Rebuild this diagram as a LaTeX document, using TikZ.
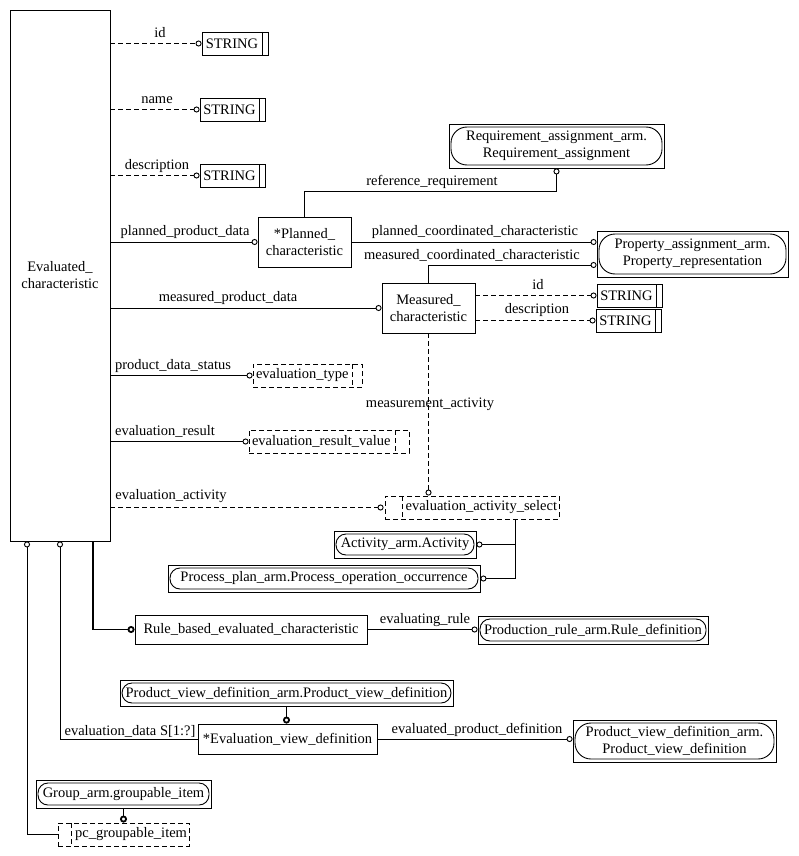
\documentclass[tikz,border=0pt]{standalone}
\usepackage{fontspec}
\setmainfont{Liberation Serif}
\usetikzlibrary{arrows.meta}
\tikzset{
  oc/.tip={Circle[open,length=6pt,width=6pt]},
  toc/.tip={Circle[open,length=7pt,width=7pt]},
  dsh/.style={dash pattern=on 5pt off 3pt},
  ent/.style={draw, inner sep=0pt, align=center},
  strbox/.style={ent, minimum width=65pt, minimum height=23pt,
    path picture={\draw ([xshift=-6pt]path picture bounding box.north east) -- ([xshift=-6pt]path picture bounding box.south east);}},
  extbox/.style={ent, path picture={\draw[rounded corners=#1] ([shift={(2pt,-3pt)}]path picture bounding box.north west) rectangle ([shift={(-2pt,3pt)}]path picture bounding box.south east);}},
  extbox/.default=10pt,
  selL/.style={draw, dsh, inner xsep=2pt, inner ysep=0pt, align=right, minimum height=23pt,
    path picture={\draw[dsh] ([xshift=#1]path picture bounding box.north west) -- ([xshift=#1]path picture bounding box.south west);}},
  selR/.style={draw, dsh, inner xsep=3pt, inner ysep=0pt, align=left, minimum height=23pt,
    path picture={\draw[dsh] ([xshift=-#1]path picture bounding box.north east) -- ([xshift=-#1]path picture bounding box.south east);}},
  lbl/.style={inner sep=0pt},
  thk/.style={line width=1.8pt}
}
\begin{document}
\begin{tikzpicture}[x=1pt,y=-1pt, font=\fontsize{14.5}{17}\selectfont, line width=0.9pt]
\useasboundingbox (0,0) rectangle (798,856);

% entities
\node[ent, minimum width=100pt, minimum height=531pt] (ec) at (60,275.5) {Evaluated\_\\characteristic};
\node[strbox, minimum width=66pt] (s1) at (235,43.5) {STRING\hspace{6pt}};
\node[strbox] (s2) at (232.5,109.5) {STRING\hspace{6pt}};
\node[strbox] (s3) at (232.5,175.5) {STRING\hspace{6pt}};
\node[ent, minimum width=93pt, minimum height=50pt] (pc) at (304.5,242) {*Planned\_\\characteristic};
\node[extbox=16pt, minimum width=215pt, minimum height=44pt] (ra) at (556.5,146) {Requirement\_assignment\_arm.\\Requirement\_assignment};
\node[extbox=16pt, minimum width=191pt, minimum height=46pt] (pr) at (692.5,254) {Property\_assignment\_arm.\\Property\_representation};
\node[ent, minimum width=93pt, minimum height=50pt] (mc) at (428.5,308) {Measured\_\\characteristic};
\node[strbox] (s4) at (629.5,295.5) {STRING\hspace{6pt}};
\node[strbox] (s5) at (628.5,320.5) {STRING\hspace{6pt}};
\node[selR=10pt, text width=103pt] (et) at (307.5,375.5) {evaluation\_type};
\node[selR=14pt, text width=154pt] (erv) at (329,441.5) {evaluation\_result\_value};
\node[selL=17pt, text width=170pt] (eas) at (472,507.5) {evaluation\_activity\_select};
\node[extbox, minimum width=142pt, minimum height=27pt] (act) at (405,544.5) {Activity\_arm.Activity};
\node[extbox, minimum width=312pt, minimum height=27pt] (ppo) at (324,578.5) {Process\_plan\_arm.Process\_operation\_occurrence};
\node[ent, minimum width=232pt, minimum height=29pt] (rbec) at (251,629.5) {Rule\_based\_evaluated\_characteristic};
\node[extbox, minimum width=230pt, minimum height=28pt] (prd) at (593,630) {Production\_rule\_arm.Rule\_definition};
\node[extbox, minimum width=333pt, minimum height=26pt] (pvda) at (286.5,693) {Product\_view\_definition\_arm.Product\_view\_definition};
\node[ent, minimum width=179pt, minimum height=30pt] (evd) at (287.5,739) {*Evaluation\_view\_definition};
\node[extbox=16pt, minimum width=203pt, minimum height=42pt] (pvdb) at (674.5,741) {Product\_view\_definition\_arm.\\Product\_view\_definition};
\node[extbox, minimum width=175pt, minimum height=28pt] (grp) at (123.5,794) {Group\_arm.groupable\_item};
\node[selL=13pt, text width=127pt] (pgi) at (123.5,834.5) {pc\_groupable\_item};

% connectors
\draw[dsh,-oc] (ec.east |- s1.west) -- (s1.west);
\draw[dsh,-oc] (ec.east |- s2.west) -- (s2.west);
\draw[dsh,-oc] (ec.east |- s3.west) -- (s3.west);
\draw[-oc] (ec.east |- pc.west) -- (pc.west);
\draw[-oc] (pc.north) |- ++(0,-25) -| (ra.south);
\draw[-oc] (pc.east) -- (pc.east -| pr.west);
\draw[-oc] (mc.north) |- ([yshift=-11pt]pr.west);
\draw[-oc] (ec.east |- mc.west) -- (mc.west);
\draw[dsh,-oc] (mc.east |- s4.west) -- (s4.west);
\draw[dsh,-oc] (mc.east |- s5.west) -- (s5.west);
\draw[-oc] (ec.east |- et.west) -- (et.west);
\draw[-oc] (ec.east |- erv.west) -- (erv.west);
\draw[dsh,-oc] (mc.south) -- (mc.south |- eas.north);
\draw[dsh,-oc] (ec.east |- eas.west) -- ([xshift=-1pt]eas.west);
\draw[-oc] ([xshift=43pt]eas.south) |- (act.east);
\draw[-oc] ([xshift=43pt]eas.south) |- (ppo.east);
\draw[thk,-toc] ([xshift=33pt]ec.south) |- (rbec.west);
\draw[-oc] (rbec.east) -- (rbec.east -| prd.west);
\draw[thk,-toc] (pvda.south) -- (pvda.south |- evd.north);
\draw[oc-] (ec.south) |- (evd.west);
\draw[-oc] (evd.east) -- (evd.east -| pvdb.west);
\draw[thk,-toc] (grp.south) -- (grp.south |- pgi.north);
\draw[oc-] ([xshift=-33pt]ec.south) |- (pgi.west);

% labels
\node[lbl] (l1) at (160,33) {id};
\node[lbl] (l2) at (157,100) {name};
\node[lbl] (l3) at (157,166) {description};
\node[lbl] (l4) at (185,232) {planned\_product\_data};
\node[lbl] (l5) at (432,182) {reference\_requirement};
\node[lbl] (l6) at (475,232) {planned\_coordinated\_characteristic};
\node[lbl] (l7) at (472,255) {measured\_coordinated\_characteristic};
\node[lbl] (l8) at (228,298) {measured\_product\_data};
\node[lbl] (l9) at (538,285) {id};
\node[lbl] (l10) at (537,310) {description};
\node[lbl] (l11) at (173,366) {product\_data\_status};
\node[lbl] (l12) at (430,404) {measurement\_activity};
\node[lbl] (l13) at (165,431) {evaluation\_result};
\node[lbl] (l14) at (171,496) {evaluation\_activity};
\node[lbl] (l15) at (425,620) {evaluating\_rule};
\node[lbl] (l16) at (130,731) {evaluation\_data S[1:?]};
\node[lbl] (l17) at (477,730) {evaluated\_product\_definition};
\end{tikzpicture}
\end{document}
